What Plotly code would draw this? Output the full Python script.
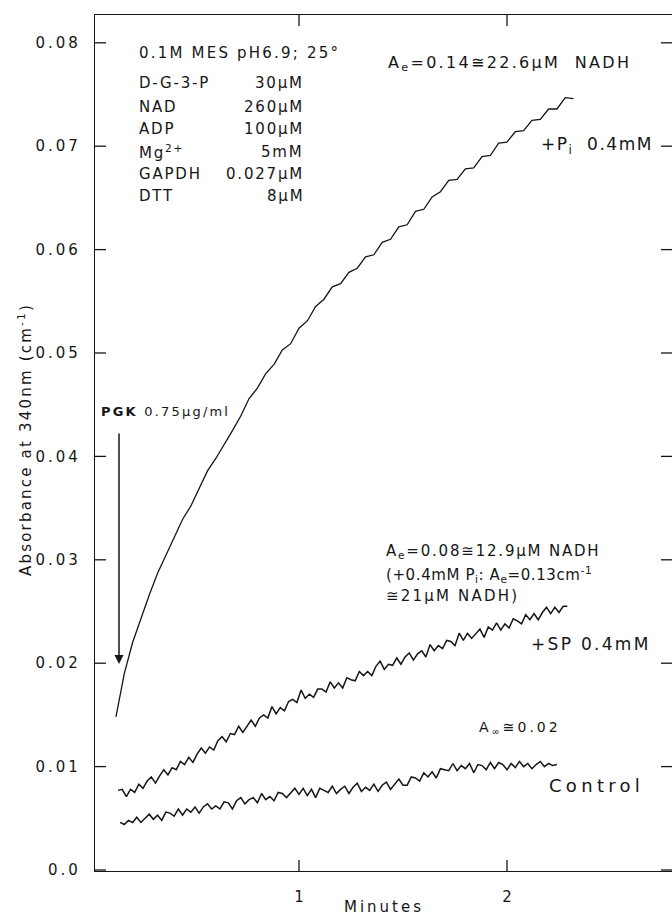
import plotly.graph_objects as go

# ---------------- data ----------------
# +Pi 0.4 mM trace (time in minutes, absorbance in cm^-1)
t_pi = [0.12, 0.16, 0.20, 0.24, 0.28, 0.32, 0.36, 0.40, 0.44, 0.48,
        0.52, 0.56, 0.60, 0.64, 0.68, 0.72, 0.76, 0.80, 0.84, 0.88,
        0.92, 0.96, 1.00, 1.04, 1.08, 1.12, 1.16, 1.20, 1.24, 1.28,
        1.32, 1.36, 1.40, 1.44, 1.48, 1.52, 1.56, 1.60, 1.64, 1.68,
        1.72, 1.76, 1.80, 1.84, 1.88, 1.92, 1.96, 2.00, 2.04, 2.08,
        2.12, 2.16, 2.20, 2.24, 2.28, 2.32]
a_pi = [0.0148, 0.0190, 0.0220, 0.0244, 0.0266, 0.0287, 0.0304, 0.0322, 0.0339, 0.0352,
        0.0369, 0.0386, 0.0398, 0.0411, 0.0425, 0.0439, 0.0456, 0.0466, 0.0480, 0.0489,
        0.0503, 0.0509, 0.0524, 0.0531, 0.0545, 0.0552, 0.0564, 0.0567, 0.0578, 0.0582,
        0.0593, 0.0595, 0.0607, 0.0610, 0.0622, 0.0624, 0.0637, 0.0639, 0.0651, 0.0656,
        0.0667, 0.0668, 0.0678, 0.0679, 0.0690, 0.0691, 0.0703, 0.0704, 0.0714, 0.0715,
        0.0725, 0.0726, 0.0736, 0.0736, 0.0747, 0.0746]

# +SP 0.4 mM trace: recorder samples every 0.02 min from 0.13 min
sp_start, sp_step = 0.13, 0.02
a_sp = [0.0077, 0.0078, 0.0071, 0.0078, 0.0075, 0.0083, 0.0079, 0.0086, 0.0090, 0.0084,
        0.0091, 0.0097, 0.0092, 0.0099, 0.0097, 0.0105, 0.0102, 0.0109, 0.0104, 0.0112,
        0.0118, 0.0113, 0.0119, 0.0116, 0.0125, 0.0129, 0.0124, 0.0132, 0.0131, 0.0139,
        0.0133, 0.0139, 0.0145, 0.0139, 0.0147, 0.0150, 0.0147, 0.0158, 0.0151, 0.0157,
        0.0154, 0.0163, 0.0165, 0.0162, 0.0174, 0.0166, 0.0170, 0.0167, 0.0175, 0.0175,
        0.0172, 0.0182, 0.0176, 0.0181, 0.0176, 0.0186, 0.0184, 0.0183, 0.0192, 0.0188,
        0.0192, 0.0188, 0.0197, 0.0202, 0.0194, 0.0199, 0.0198, 0.0205, 0.0199, 0.0206,
        0.0210, 0.0203, 0.0209, 0.0212, 0.0206, 0.0218, 0.0212, 0.0217, 0.0214, 0.0222,
        0.0221, 0.0217, 0.0229, 0.0222, 0.0229, 0.0224, 0.0229, 0.0233, 0.0225, 0.0235,
        0.0232, 0.0239, 0.0232, 0.0238, 0.0234, 0.0243, 0.0241, 0.0238, 0.0247, 0.0242,
        0.0248, 0.0242, 0.0249, 0.0254, 0.0248, 0.0254, 0.0249, 0.0255, 0.0255]

# Control trace: recorder samples every 0.02 min from 0.14 min
ct_start, ct_step = 0.14, 0.02
a_ct = [0.0046, 0.0044, 0.0048, 0.0046, 0.0051, 0.0046, 0.0050, 0.0054, 0.0049, 0.0053,
        0.0048, 0.0056, 0.0055, 0.0052, 0.0059, 0.0053, 0.0059, 0.0056, 0.0061, 0.0055,
        0.0061, 0.0064, 0.0059, 0.0062, 0.0059, 0.0066, 0.0065, 0.0059, 0.0067, 0.0070,
        0.0064, 0.0068, 0.0070, 0.0065, 0.0074, 0.0068, 0.0071, 0.0067, 0.0075, 0.0074,
        0.0070, 0.0075, 0.0079, 0.0073, 0.0079, 0.0072, 0.0078, 0.0070, 0.0079, 0.0077,
        0.0075, 0.0081, 0.0074, 0.0078, 0.0081, 0.0074, 0.0080, 0.0084, 0.0076, 0.0080,
        0.0077, 0.0083, 0.0076, 0.0082, 0.0085, 0.0078, 0.0083, 0.0088, 0.0082, 0.0082,
        0.0090, 0.0089, 0.0086, 0.0094, 0.0090, 0.0095, 0.0089, 0.0098, 0.0097, 0.0096,
        0.0103, 0.0096, 0.0101, 0.0098, 0.0103, 0.0094, 0.0102, 0.0101, 0.0097, 0.0104,
        0.0098, 0.0104, 0.0102, 0.0097, 0.0103, 0.0099, 0.0105, 0.0100, 0.0103, 0.0098,
        0.0102, 0.0105, 0.0100, 0.0103, 0.0101, 0.0102]

y_tickvals = [0.0, 0.01, 0.02, 0.03, 0.04, 0.05, 0.06, 0.07, 0.08]
y_ticktext = ["0.0", "0.01", "0.02", "0.03", "0.04", "0.05", "0.06", "0.07", "0.08"]
x_tickvals = [1, 2]
x_ticktext = ["1", "2"]

conditions_left = ["D-G-3-P", "NAD", "ADP", "Mg<sup>2+</sup>", "GAPDH", "DTT"]
conditions_right = ["30µM", "260µM", "100µM", "5mM", "0.027µM", "8µM"]

# ---------------- figure ----------------
t_sp = [round(sp_start + sp_step * i, 4) for i in range(len(a_sp))]
t_ct = [round(ct_start + ct_step * i, 4) for i in range(len(a_ct))]

FONT = "DejaVu Sans"
INK = "#161616"


def sp(s, ls):
    return '<span style="letter-spacing:%.1fpx">%s</span>' % (ls, s)


fig = go.Figure()
fig.add_trace(go.Scatter(x=t_pi, y=a_pi, mode="lines", line=dict(color=INK, width=1.3), hoverinfo="skip"))
fig.add_trace(go.Scatter(x=t_sp, y=a_sp, mode="lines", line=dict(color=INK, width=1.5), hoverinfo="skip"))
fig.add_trace(go.Scatter(x=t_ct, y=a_ct, mode="lines", line=dict(color=INK, width=1.5), hoverinfo="skip"))

L, R, T, B = 95, 672, 15, 871
W, H = 672, 918
TICK = 11


def px(x):
    return (x - L) / (R - L)


def py(y):
    return (B - y) / (B - T)


ann = []


def text(x, y, s, size=15, ls=1.5, xanchor="left"):
    ann.append(dict(xref="paper", yref="paper", x=px(x), y=py(y), text=sp(s, ls), showarrow=False,
                    xanchor=xanchor, yanchor="middle", font=dict(family=FONT, size=size, color=INK)))


text(137, 53, "0.1M MES pH6.9; 25°", 15, 2.2)
rows_y = [83, 107, 129, 152, 174, 196]
for yy, lft, rgt in zip(rows_y, conditions_left, conditions_right):
    text(137, yy, lft, 15, 1.8)
    text(306, yy, rgt, 15, 1.8, xanchor="right")

text(386, 63, "A<sub>e</sub>=0.14≅22.6µM  NADH", 16, 2.3)
text(539, 145, "+P<sub>i</sub>  0.4mM", 17, 1.5)
text(99, 412, "<b>PGK</b> 0.75µg/ml", 13, 2.2)
text(384, 551, "A<sub>e</sub>=0.08≅12.9µM NADH", 15, 1.8)
text(384, 574, "(+0.4mM P<sub>i</sub>: A<sub>e</sub>=0.13cm<sup>-1</sup>", 15, 0.6)
text(384, 596, "≅21µM NADH)", 15, 2.2)
text(529, 644, "+SP 0.4mM", 17, 2.3)
text(477, 728, "A<sub>∞</sub>≅0.02", 14, 3.0)
text(547, 785, "Control", 18, 4.3)

# PGK addition arrow
ann.append(dict(xref="paper", yref="paper", x=px(119), y=py(664), ax=0, ay=-(664 - 432),
                axref="pixel", ayref="pixel", text="", showarrow=True, arrowhead=2,
                arrowsize=1.2, arrowwidth=1.5, arrowcolor=INK))

# axis titles
ann.append(dict(xref="paper", yref="paper", x=px(25), y=py(440),
                text=sp("Absorbance at 340nm (cm<sup>-1</sup>)", 2.2),
                textangle=-90, showarrow=False, xanchor="center", yanchor="middle",
                font=dict(family=FONT, size=15, color=INK)))
ann.append(dict(xref="paper", yref="paper", x=px(384), y=py(907), text=sp("Minutes", 3.0),
                showarrow=False, xanchor="center", yanchor="middle",
                font=dict(family=FONT, size=15, color=INK)))

# inward tick marks on all four sides, placed at the tick values
tick_line = dict(color=INK, width=1.3)
shapes = []
for v in y_tickvals:
    shapes.append(dict(type="line", xref="paper", yref="y", x0=0, x1=TICK / (R - L), y0=v, y1=v, line=tick_line))
    shapes.append(dict(type="line", xref="paper", yref="y", x0=1 - TICK / (R - L), x1=1, y0=v, y1=v, line=tick_line))
for v in x_tickvals:
    shapes.append(dict(type="line", xref="x", yref="paper", x0=v, x1=v, y0=0, y1=TICK / (B - T), line=tick_line))
    shapes.append(dict(type="line", xref="x", yref="paper", x0=v, x1=v, y0=1 - TICK / (B - T), y1=1, line=tick_line))

fig.update_layout(
    width=W, height=H,
    margin=dict(l=L, r=W - R, t=T, b=H - B),
    paper_bgcolor="white", plot_bgcolor="white",
    showlegend=False,
    annotations=ann,
    shapes=shapes,
    font=dict(family=FONT, size=15, color=INK),
)
fig.update_xaxes(range=[(L - 91) / 208, (R - 91) / 208], tickvals=x_tickvals,
                 ticktext=x_ticktext, ticks="",
                 showline=True, linecolor=INK, linewidth=1.4, mirror=True,
                 showgrid=False, zeroline=False, ticklabelstandoff=12,
                 tickfont=dict(family=FONT, size=15, color=INK))
fig.update_yaxes(range=[-(B - 870) / 10340, (870 - T) / 10340], tickvals=y_tickvals,
                 ticktext=[sp(s, 3.0) for s in y_ticktext], ticks="",
                 showline=True, linecolor=INK, linewidth=1.4, mirror=False,
                 showgrid=False, zeroline=False, ticklabelstandoff=10,
                 tickfont=dict(family=FONT, size=15, color=INK))

fig.write_html("out.html", config={"displayModeBar": False},
               post_script="document.body.style.margin='0';document.body.style.padding='0';")
